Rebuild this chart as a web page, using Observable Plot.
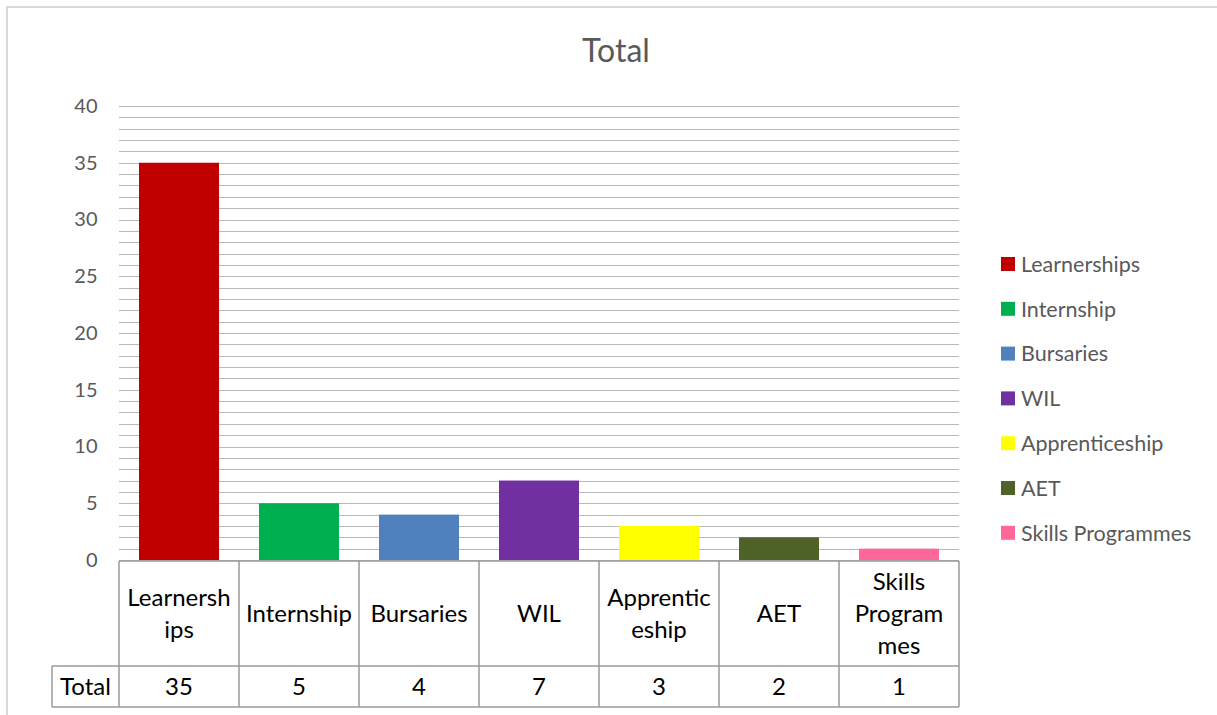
<!DOCTYPE html>
<html><head><meta charset="utf-8">
<script src="https://cdn.jsdelivr.net/npm/d3@7"></script>
<script src="https://cdn.jsdelivr.net/npm/@observablehq/plot@0.6"></script>
<style>html,body{margin:0;padding:0;background:#fff} svg{display:block}</style>
</head><body><div id="chart"></div>
<script>
const categories = ["Learnerships","Internship","Bursaries","WIL","Apprenticeship","AET","Skills Programmes"];
const tableLabels = [["Learnersh","ips"],["Internship"],["Bursaries"],["WIL"],["Apprentic","eship"],["AET"],["Skills","Program","mes"]];
const values = [35,5,4,7,3,2,1];
const colors = ["#C00000","#00B050","#4F81BD","#7030A0","#FFFF00","#4F6228","#FF6699"];
const yTicks = [0,5,10,15,20,25,30,35,40];
const gridValues = d3.range(0,41,1);
const chartTitle = "Total";
const rowLabel = "Total";

const data = categories.map((c,i)=>({category:c, value:values[i]}));
const W = 1217, H = 715;
const FONT = "Lato, 'Open Sans', sans-serif";

const chart = Plot.plot({
  width: W, height: H,
  marginLeft: 119, marginRight: 258, marginTop: 106, marginBottom: 155,
  style: {fontFamily: FONT, background: "#fff", color: "#595959", overflow: "visible"},
  x: {domain: categories, paddingInner: 1/3, paddingOuter: 1/6, axis: null},
  y: {domain: [0,40], axis: null},
  color: {domain: categories, range: colors},
  marks: [
    Plot.ruleY(gridValues, {stroke: "#b8b8b8", strokeWidth: 1, shapeRendering: "crispEdges"}),
    Plot.barY(data, {x: "category", y: "value", fill: "category"}),
    Plot.axisY({ticks: yTicks, tickSize: 0, tickPadding: 22, fontSize: 20, label: null, fill: "#595959"})
  ]
});
document.getElementById("chart").appendChild(chart);

const svg = d3.select(chart);
const xs = chart.scale("x");
const ys = chart.scale("y");
const y0 = ys.apply(0);
const half = xs.step / 2;
const xLeft = xs.apply(categories[0]) + xs.bandwidth/2 - half;
const xRight = xs.apply(categories[categories.length-1]) + xs.bandwidth/2 + half;
const row1Top = y0 + 1, row1Bot = y0 + 106, row2Bot = y0 + 147;
const headLeft = 52;
const lineColor = "#9a9a9a";
const TS = 24;

// outer chart border (top and left visible)
svg.append("line").attr("x1",6).attr("x2",W).attr("y1",7).attr("y2",7).attr("stroke","#d9d9d9").attr("stroke-width",2);
svg.append("line").attr("x1",7).attr("x2",7).attr("y1",6).attr("y2",H).attr("stroke","#d9d9d9").attr("stroke-width",2);

// title
svg.append("text").attr("x",616).attr("y",62).attr("text-anchor","middle")
  .attr("font-size",32).attr("fill","#595959").attr("font-family",FONT).text(chartTitle);

// data table
const tg = svg.append("g").attr("stroke",lineColor).attr("stroke-width",1.5).attr("fill","none");
tg.append("line").attr("x1",xLeft).attr("x2",xRight).attr("y1",row1Top).attr("y2",row1Top);
tg.append("line").attr("x1",headLeft).attr("x2",xRight).attr("y1",row1Bot).attr("y2",row1Bot);
tg.append("line").attr("x1",headLeft).attr("x2",xRight).attr("y1",row2Bot).attr("y2",row2Bot);
tg.append("line").attr("x1",headLeft).attr("x2",headLeft).attr("y1",row1Bot).attr("y2",row2Bot);
categories.forEach((c,i)=>{
  const cx = xs.apply(c) + xs.bandwidth/2;
  tg.append("line").attr("x1",cx-half).attr("x2",cx-half).attr("y1",row1Top).attr("y2",row2Bot);
  if (i === categories.length-1) tg.append("line").attr("x1",cx+half).attr("x2",cx+half).attr("y1",row1Top).attr("y2",row2Bot);
  const lines = tableLabels[i];
  const lh = 32;
  const mid = (row1Top + row1Bot)/2;
  lines.forEach((t,j)=>{
    svg.append("text").attr("x",cx).attr("y", mid + (j - (lines.length-1)/2)*lh)
      .attr("dy","0.36em").attr("text-anchor","middle").attr("font-size",TS)
      .attr("fill","#000").attr("font-family",FONT).text(t);
  });
  svg.append("text").attr("x",cx).attr("y",(row1Bot+row2Bot)/2).attr("dy","0.36em")
    .attr("text-anchor","middle").attr("font-size",TS).attr("fill","#000").attr("font-family",FONT).text(values[i]);
});
svg.append("text").attr("x",(headLeft+xLeft)/2).attr("y",(row1Bot+row2Bot)/2).attr("dy","0.36em")
  .attr("text-anchor","middle").attr("font-size",TS).attr("fill","#000").attr("font-family",FONT).text(rowLabel);

// legend
const cs = chart.scale("color");
const lg = svg.append("g");
cs.domain.forEach((c,i)=>{
  const cy = 264 + i*44.8;
  lg.append("rect").attr("x",1001).attr("y",cy-7).attr("width",14).attr("height",14).attr("fill",cs.range[i]);
  lg.append("text").attr("x",1021).attr("y",cy).attr("dy","0.36em").attr("text-anchor","start").attr("font-size",21.5)
    .attr("fill","#595959").attr("font-family",FONT).text(c);
});
</script>
</body></html>
